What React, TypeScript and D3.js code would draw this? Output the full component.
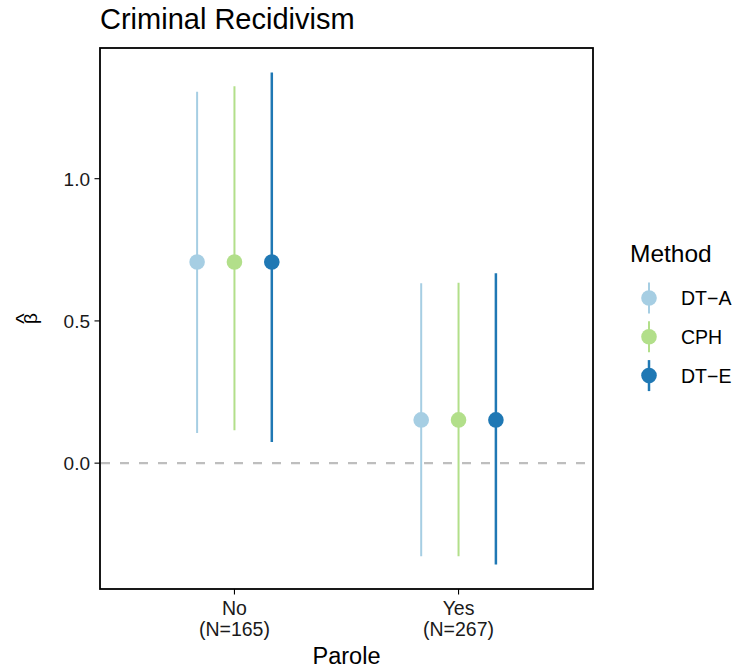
import React from 'react';
import * as d3 from 'd3';

const groups = ['No', 'Yes'];
const groupNs = ['(N=165)', '(N=267)'];
const methods = ['DT\u2212A', 'CPH', 'DT\u2212E'];
const colors = ['#A6CEE3', '#B2DF8A', '#1F78B4'];
const widths = [2, 2, 2.5];

// estimate / lower / upper per method, per group (No, Yes)
const estimates = [
  [0.707, 0.152],
  [0.707, 0.152],
  [0.707, 0.152],
];
const lower = [
  [0.106, -0.327],
  [0.116, -0.327],
  [0.074, -0.356],
];
const upper = [
  [1.306, 0.632],
  [1.325, 0.634],
  [1.373, 0.668],
];
const yTicks = [0, 0.5, 1.0];

const W = 735;
const H = 670;
const panel = { left: 100, right: 593, top: 48, bottom: 589 };
const font = '"Liberation Sans", Arial, sans-serif';

export default function App() {
  const allVals = [...lower.flat(), ...upper.flat()];
  const lo = d3.min(allVals) as number;
  const hi = d3.max(allVals) as number;
  const pad = (hi - lo) * 0.05;

  const y = d3.scaleLinear().domain([lo - pad, hi + pad]).range([panel.bottom, panel.top]);
  const x = d3.scaleLinear().domain([0.4, 2.6]).range([panel.left, panel.right]);
  // dodge width 0.5 split over 3 methods -> offsets -1/6, 0, 1/6
  const dodge = d3.scalePoint().domain(methods).range([-1 / 6, 1 / 6]);

  return (
    <svg width={W} height={H} style={{ display: 'block', position: 'absolute', left: 0, top: 0 }} fontFamily={font}>
      <rect width={W} height={H} fill="white" />
      <text x={panel.left} y={29} fontSize={29} fill="black">Criminal Recidivism</text>

      <line x1={panel.left + 1} x2={panel.right} y1={y(0)} y2={y(0)} stroke="#BEBEBE" strokeWidth={2.2} strokeDasharray="9,10" />

      {methods.map((m, mi) => (
        <g key={m}>
          {groups.map((g, gi) => {
            const cx = x(gi + 1 + (dodge(m) as number));
            return (
              <g key={g}>
                <line x1={cx} x2={cx} y1={y(lower[mi][gi])} y2={y(upper[mi][gi])} stroke={colors[mi]} strokeWidth={widths[mi]} />
                <circle cx={cx} cy={y(estimates[mi][gi])} r={7.8} fill={colors[mi]} />
              </g>
            );
          })}
        </g>
      ))}

      <rect x={panel.left} y={panel.top} width={panel.right - panel.left} height={panel.bottom - panel.top} fill="none" stroke="black" strokeWidth={1.8} />

      {yTicks.map(t => (
        <g key={t}>
          <line x1={panel.left - 5.5} x2={panel.left} y1={y(t)} y2={y(t)} stroke="black" strokeWidth={1.1} />
          <text x={panel.left - 10} y={y(t)} dy="0.36em" textAnchor="end" fontSize={19} fill="#1a1a1a">{d3.format('.1f')(t)}</text>
        </g>
      ))}

      {groups.map((g, gi) => (
        <g key={g}>
          <line x1={x(gi + 1)} x2={x(gi + 1)} y1={panel.bottom} y2={panel.bottom + 5.5} stroke="black" strokeWidth={1.1} />
          <text x={x(gi + 1)} y={615} textAnchor="middle" fontSize={19.5} fill="#1a1a1a">{g}</text>
          <text x={x(gi + 1)} y={636} textAnchor="middle" fontSize={19.5} fill="#1a1a1a">{groupNs[gi]}</text>
        </g>
      ))}

      <text x={(panel.left + panel.right) / 2} y={664} textAnchor="middle" fontSize={23.5} fill="black">Parole</text>

      <g transform={`translate(36.5,${(panel.top + panel.bottom) / 2}) rotate(-90)`}>
        <text x={0} y={0} textAnchor="middle" fontSize={19} fill="black">β</text>
        <text x={0} y={-6} textAnchor="middle" fontSize={22} fill="black">^</text>
      </g>

      <text x={630} y={262} fontSize={24.5} fill="black">Method</text>
      {methods.map((m, mi) => {
        const ky = 298 + mi * 38.8;
        return (
          <g key={m}>
            <line x1={649} x2={649} y1={ky - 15.5} y2={ky + 15.5} stroke={colors[mi]} strokeWidth={widths[mi]} />
            <circle cx={649} cy={ky} r={7.8} fill={colors[mi]} />
            <text x={681} y={ky} dy="0.36em" fontSize={19.5} fill="black">{m}</text>
          </g>
        );
      })}
    </svg>
  );
}
